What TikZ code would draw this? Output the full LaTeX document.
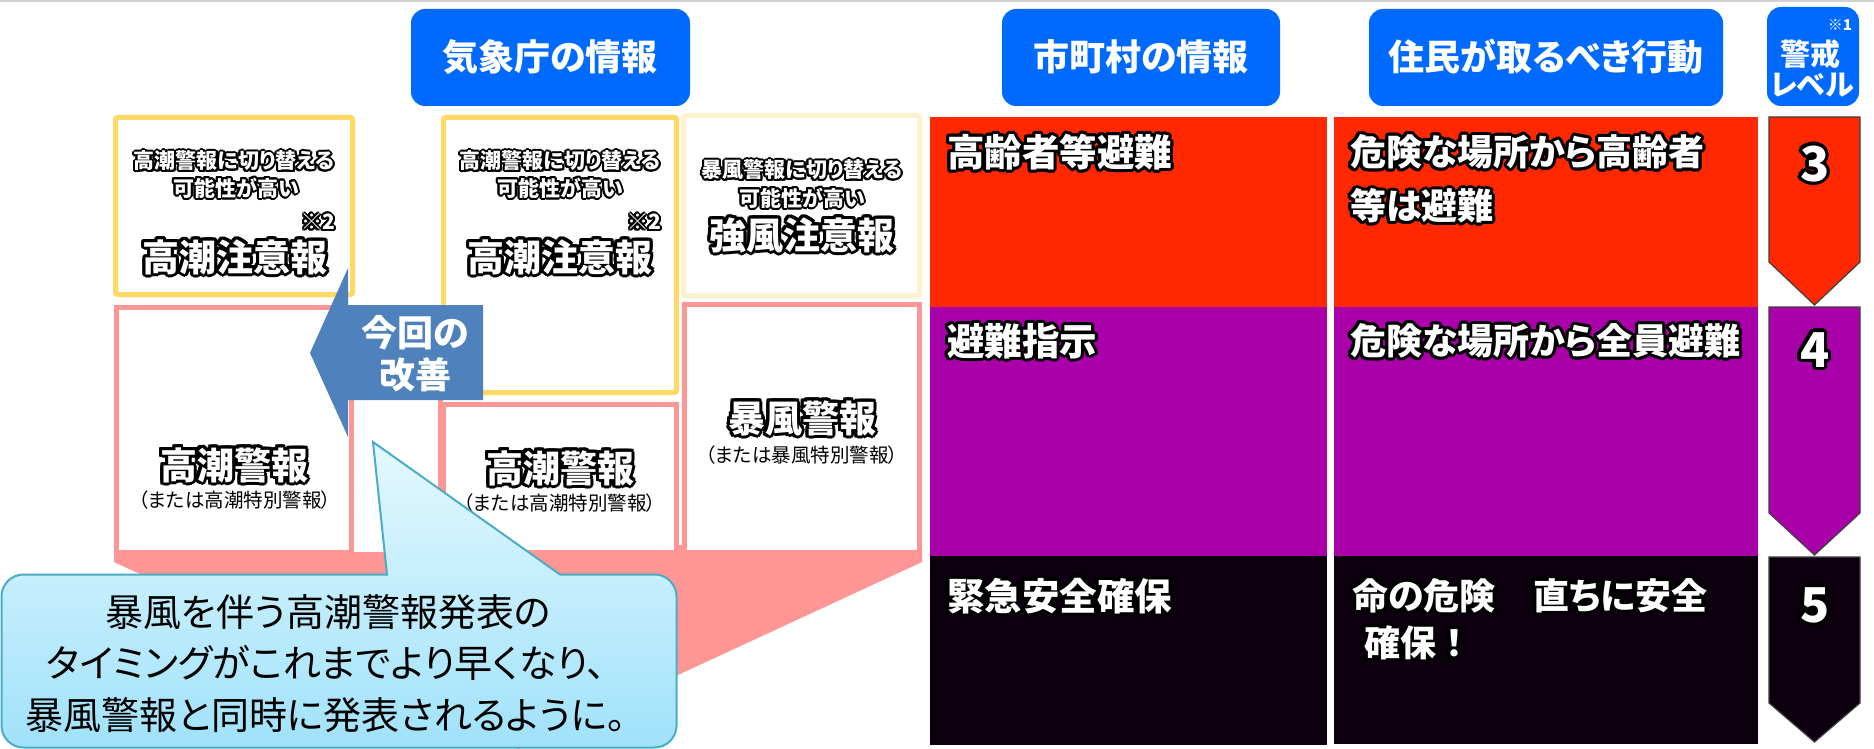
\documentclass[tikz,border=0pt]{standalone}
\usepackage{fontspec}
\setmainfont{Noto Sans CJK JP}[RawFeature=+palt]
\definecolor{hdrblue}{RGB}{0,106,255}
\definecolor{lvred}{RGB}{255,40,0}
\definecolor{lvpurple}{RGB}{170,0,170}
\definecolor{lvblack}{RGB}{12,0,14}
\definecolor{pinkc}{RGB}{255,150,150}
\definecolor{yel}{RGB}{255,217,102}
\definecolor{lyel}{RGB}{255,242,204}
\definecolor{arrowc}{RGB}{79,129,189}
\definecolor{callb}{RGB}{75,172,198}
\definecolor{calltop}{RGB}{228,248,254}
\definecolor{callbot}{RGB}{160,226,250}
\newcommand\fsz[1]{\fontsize{#1pt}{#1pt}\selectfont}
\newsavebox\glowbox
\newdimen\glowa \newdimen\glowb \newdimen\glowc \newdimen\glowd
\newcommand\glowk[2]{\rlap{\kern#1\raise#2\hbox{\usebox\glowbox}}}
\newcommand\glowtxt[2][2.5]{{%
  \glowa=#1pt\relax
  \glowb=\dimexpr\glowa*71/100\relax
  \glowc=\dimexpr\glowa*92/100\relax
  \glowd=\dimexpr\glowa*38/100\relax
  \sbox\glowbox{\color{black}#2}%
  \leavevmode
  \glowk{\glowa}{0pt}\glowk{-\glowa}{0pt}\glowk{0pt}{\glowa}\glowk{0pt}{-\glowa}%
  \glowk{\glowb}{\glowb}\glowk{-\glowb}{\glowb}\glowk{\glowb}{-\glowb}\glowk{-\glowb}{-\glowb}%
  \glowk{\glowc}{\glowd}\glowk{-\glowc}{\glowd}\glowk{\glowc}{-\glowd}\glowk{-\glowc}{-\glowd}%
  \glowk{\glowd}{\glowc}\glowk{-\glowd}{\glowc}\glowk{\glowd}{-\glowc}\glowk{-\glowd}{-\glowc}%
  \color{white}#2}}
\begin{document}
\begin{tikzpicture}[x=1pt,y=-1pt,
  every node/.style={inner sep=0pt,outer sep=0pt},
  hdr/.style={fill=hdrblue,rounded corners=14pt},
  hdrtxt/.style={text=white,font={\fsz{36}\bfseries}},
  ybox/.style={draw=yel,line width=5pt,fill=white,rounded corners=2pt},
  lybox/.style={draw=lyel,line width=5pt,fill=white,rounded corners=2pt},
  pbox/.style={draw=pinkc,line width=5pt,fill=white},
  smalltxt/.style={font={\fsz{21}\bfseries}},
  bigtxt/.style={font={\fsz{37}\bfseries}},
  subtxt/.style={font={\fsz{19.5}},text=black},
  calltxt/.style={font={\fsz{38}},text=black},
  celltxt/.style={anchor=west,font={\fsz{37.5}\bfseries}},
  celltxtb/.style={anchor=west,font={\fsz{36}\bfseries}},
  lvtxt/.style={font={\fsz{48}\bfseries}},
  lvshape/.style={draw=black!75,line width=1.2pt},
  callout/.style={draw=callb,line width=2pt,top color=calltop,bottom color=callbot}
]
\useasboundingbox (0,0) rectangle (1874,749);
\fill[white] (0,0) rectangle (1874,749);
\draw[line width=2.5pt,color=black!18] (0,1.25) -- (1874,1.25);

% headers
\path[hdr] (411,9) rectangle (690,106);
\node[hdrtxt] (h1) at (550,57) {気象庁の情報};
\path[hdr] (1002,9) rectangle (1280,106);
\node[hdrtxt] (h2) at (1141,57) {市町村の情報};
\path[hdr] (1369,9) rectangle (1723,106);
\node[hdrtxt] (h3) at (1546,57) {住民が取るべき行動};
\path[hdr] (1767,7) rectangle (1859,106);
\node[text=white,font={\fsz{15}\bfseries}] (h4a) at (1840,25) {※1};
\node[text=white,font={\fsz{30}\bfseries}] (h4b) at (1810,54) {警戒};
\node[text=white,font={\fsz{29}\bfseries}] (h4c) at (1812,85) {レベル};

% pink funnel
\fill[pinkc] (114,545) -- (922,545) -- (922,562) -- (518,749) -- (114,562) -- cycle;

% boxes
\path[pbox] (351.5,312.5) rectangle (440.5,554.5);
\path[pbox] (116.5,307.5) rectangle (351.5,552.5);
\path[pbox] (443.5,404.5) rectangle (676.5,552.5);
\path[pbox] (684.5,304.5) rectangle (919.5,552.5);
\path[ybox] (115.5,117.5) rectangle (352.5,294.5);
\path[ybox] (443.5,117.5) rectangle (676.5,392.5);
\path[lybox] (683.5,115.5) rectangle (919.5,295.5);

% box texts
\node[smalltxt] (a1) at (234,161) {\glowtxt[2]{高潮警報に切り替える}};
\node[smalltxt] (a2) at (236,188) {\glowtxt[2]{可能性が高い}};
\node[smalltxt,anchor=east] (a3) at (335,222) {\glowtxt[2]{※2}};
\node[bigtxt] (a4) at (235,257) {\glowtxt[3]{高潮注意報}};
\node[bigtxt] (a5) at (234,465) {\glowtxt[3]{高潮警報}};
\node[subtxt] (a6) at (235,500) {（または高潮特別警報）};

\node[smalltxt] (b1) at (560,161) {\glowtxt[2]{高潮警報に切り替える}};
\node[smalltxt] (b2) at (560,188) {\glowtxt[2]{可能性が高い}};
\node[smalltxt,anchor=east] (b3) at (661,222) {\glowtxt[2]{※2}};
\node[bigtxt] (b4) at (560,257) {\glowtxt[3]{高潮注意報}};
\node[bigtxt] (b5) at (560,468) {\glowtxt[3]{高潮警報}};
\node[subtxt] (b6) at (560,503) {（または高潮特別警報）};

\node[smalltxt] (c1) at (802,170) {\glowtxt[2]{暴風警報に切り替える}};
\node[smalltxt] (c2) at (802,198) {\glowtxt[2]{可能性が高い}};
\node[bigtxt] (c3) at (802,235) {\glowtxt[3]{強風注意報}};
\node[bigtxt] (c4) at (802,418) {\glowtxt[3]{暴風警報}};
\node[subtxt] (c5) at (802,455) {（または暴風特別警報）};

% improvement arrow
\fill[arrowc] (483,305) -- (348,305) -- (348,268) -- (310,353) -- (348,437) -- (348,400) -- (483,400) -- cycle;
\node[text=white,font={\fsz{36}\bfseries}] (k1) at (415,333) {今回の};
\node[text=white,font={\fsz{36}\bfseries}] (k2) at (415,375) {改善};

% callout
\path[callout] (387,574.5) -- (373,442) -- (560,574.5) -- (654.5,574.5)
  arc[start angle=270,end angle=360,radius=22] -- (676.5,725.5)
  arc[start angle=0,end angle=90,radius=22] -- (23.5,747.5)
  arc[start angle=90,end angle=180,radius=22] -- (1.5,596.5)
  arc[start angle=180,end angle=270,radius=22] -- cycle;
\node[calltxt] (t1) at (328,612) {暴風を伴う高潮警報発表の};
\node[calltxt] (t2) at (326,663) {タイミングがこれまでより早くなり、};
\node[calltxt] (t3) at (326,715) {暴風警報と同時に発表されるように。};

% table
\fill[lvred] (930,117) rectangle (1327,307);
\fill[lvred] (1334,117) rectangle (1758,307);
\fill[lvpurple] (930,307) rectangle (1327,556);
\fill[lvpurple] (1334,307) rectangle (1758,556);
\fill[lvblack] (930,556) rectangle (1327,745);
\fill[lvblack] (1334,556) rectangle (1758,744);

\path[lvshape,fill=lvred] (1769,117) -- (1860,117) -- (1860,262) -- (1814.5,305) -- (1769,262) -- cycle;
\path[lvshape,fill=lvpurple] (1769,307) -- (1860,307) -- (1860,513) -- (1814.5,555) -- (1769,513) -- cycle;
\path[lvshape,fill=lvblack] (1769,557) -- (1860,557) -- (1860,703) -- (1814.5,742) -- (1769,703) -- cycle;

\node[celltxt] (r1) at (947,152) {\glowtxt[3]{高齢者等避難}};
\node[celltxt] (r2) at (947,341) {\glowtxt[3]{避難指示}};
\node[celltxt] (r3) at (947,596) {\glowtxt[3]{緊急安全確保}};
\node[celltxtb] (s1) at (1350,152) {\glowtxt[3]{危険な場所から高齢者}};
\node[celltxtb] (s2) at (1350,206) {\glowtxt[3]{等は避難}};
\node[celltxtb] (s3) at (1350,341) {\glowtxt[3]{危険な場所から全員避難}};
\node[celltxtb] (s4) at (1352,596) {\glowtxt[3]{命の危険\hspace{38pt}直ちに安全}};
\node[celltxtb] (s5) at (1364,643) {\addfontfeatures{RawFeature=-palt}\glowtxt[3]{確保！}};

\node[lvtxt] (l3) at (1815,164) {\glowtxt[3.5]{3}};
\node[lvtxt] (l4) at (1815,350) {\glowtxt[3.5]{4}};
\node[lvtxt] (l5) at (1815,605) {\glowtxt[3.5]{5}};
\end{tikzpicture}
\end{document}
